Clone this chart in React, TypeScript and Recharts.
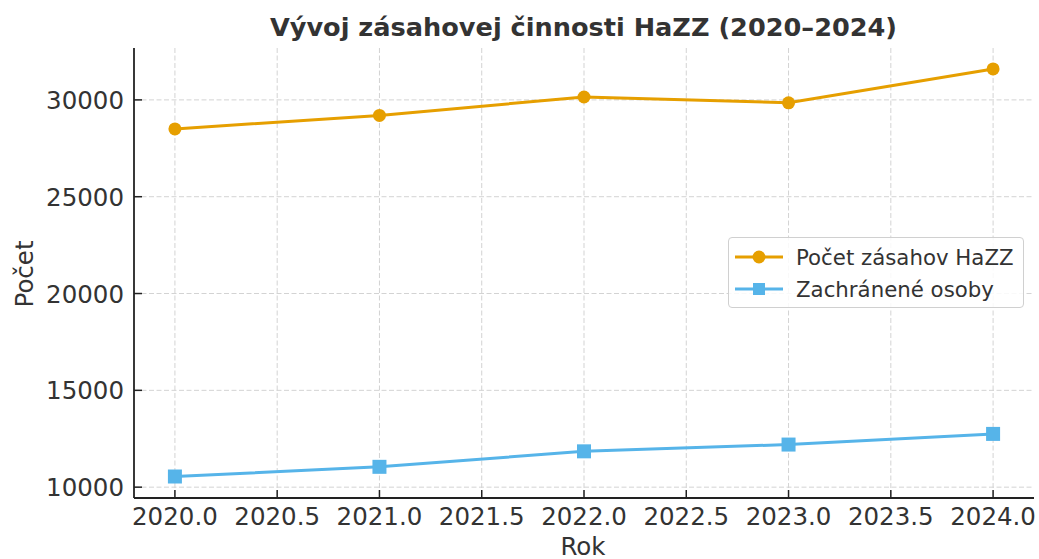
import React from 'react';
import { LineChart, Line, XAxis, YAxis, CartesianGrid } from 'recharts';

const years = [2020, 2021, 2022, 2023, 2024];
const zasahy = [28500, 29200, 30150, 29850, 31600];
const zachranene = [10550, 11050, 11850, 12200, 12750];
const xTicks = [2020, 2020.5, 2021, 2021.5, 2022, 2022.5, 2023, 2023.5, 2024];
const yTicks = [10000, 15000, 20000, 25000, 30000];

const data = years.map((y, i) => ({ rok: y, zasahy: zasahy[i], zachranene: zachranene[i] }));

const FONT = '"DejaVu Sans", sans-serif';
const TXT = '#333333';
const ORANGE = '#E69F00';
const BLUE = '#56B4E9';

const X_DOMAIN: [number, number] = [2019.8, 2024.2];
const Y_DOMAIN: [number, number] = [9440, 32680];

const XTick = (props: any) => {
  const { x, y, payload } = props;
  return (
    <g>
      <line x1={x} x2={x} y1={y - 8} y2={y} stroke="#222" strokeWidth={1.5} />
      <text x={x} y={y + 27} textAnchor="middle" fontFamily={FONT} fontSize={24.5} fill={TXT}>
        {Number(payload.value).toFixed(1)}
      </text>
    </g>
  );
};

const YTick = (props: any) => {
  const { x, y, payload } = props;
  return (
    <g>
      <line x1={x} x2={x + 8} y1={y} y2={y} stroke="#222" strokeWidth={1.5} />
      <text x={x - 10} y={y + 9} textAnchor="end" fontFamily={FONT} fontSize={24.5} fill={TXT}>
        {payload.value}
      </text>
    </g>
  );
};

const legendItems = [
  { label: 'Počet zásahov HaZZ', color: ORANGE, shape: 'circle' },
  { label: 'Zachránené osoby', color: BLUE, shape: 'square' },
];

const LegendBox = () => (
  <div
    style={{
      position: 'absolute',
      left: 728,
      top: 237,
      boxSizing: 'border-box',
      width: 296,
      height: 71,
      border: '1.5px solid #d0d0d0',
      borderRadius: 4,
      background: 'rgba(255,255,255,0.85)',
      padding: '3px 6px',
      fontFamily: FONT,
      fontSize: 21.3,
      color: TXT,
    }}
  >
    {legendItems.map((it) => (
      <div key={it.label} style={{ display: 'flex', alignItems: 'center', height: 32 }}>
        <svg width={48} height={20} style={{ marginRight: 13, flexShrink: 0 }}>
          <line x1={0} x2={48} y1={10} y2={10} stroke={it.color} strokeWidth={3} />
          {it.shape === 'circle' ? (
            <circle cx={24} cy={10} r={6.5} fill={it.color} />
          ) : (
            <rect x={18} y={4} width={12} height={12} fill={it.color} />
          )}
        </svg>
        <span style={{ whiteSpace: 'nowrap' }}>{it.label}</span>
      </div>
    ))}
  </div>
);

const Square = (props: any) => {
  const { cx, cy } = props;
  if (cx == null || cy == null) return null;
  return <rect x={cx - 7} y={cy - 7} width={14} height={14} fill={BLUE} />;
};

const PLOT = { left: 134, right: 1034, top: 48, bottom: 498 };

const hGen = () =>
  yTicks.map(
    (v) => PLOT.bottom - ((v - Y_DOMAIN[0]) / (Y_DOMAIN[1] - Y_DOMAIN[0])) * (PLOT.bottom - PLOT.top)
  );
const vGen = () =>
  xTicks.map(
    (v) => PLOT.left + ((v - X_DOMAIN[0]) / (X_DOMAIN[1] - X_DOMAIN[0])) * (PLOT.right - PLOT.left)
  );

export default function App() {
  return (
    <div style={{ position: 'absolute', left: 0, top: 0, width: 1039, height: 559, background: '#fff' }}>
      <LineChart
        width={1039}
        height={559}
        data={data}
        margin={{ top: 48, right: 5, bottom: 0, left: 0 }}
      >
        <text x={583.5} y={36} textAnchor="middle" fontFamily={FONT} fontWeight="bold" fontSize={25.6} fill={TXT}>
          Vývoj zásahovej činnosti HaZZ (2020–2024)
        </text>
        <text x={583} y={555} textAnchor="middle" fontFamily={FONT} fontSize={24.5} fill={TXT}>
          Rok
        </text>
        <text
          x={33}
          y={274}
          textAnchor="middle"
          fontFamily={FONT}
          fontSize={24.5}
          fill={TXT}
          transform="rotate(-90 33 274)"
        >
          Počet
        </text>
        <CartesianGrid
          stroke="#d3d3d3"
          strokeDasharray="5 2.5"
          strokeWidth={1}
          horizontalCoordinatesGenerator={hGen}
          verticalCoordinatesGenerator={vGen}
        />
        <XAxis
          dataKey="rok"
          type="number"
          domain={X_DOMAIN}
          ticks={xTicks}
          interval={0}
          height={61}
          tickSize={0}
          tickMargin={0}
          tick={<XTick />}
          tickLine={false}
          axisLine={{ stroke: '#222', strokeWidth: 1.8 }}
          allowDataOverflow
        />
        <YAxis
          type="number"
          domain={Y_DOMAIN}
          ticks={yTicks}
          interval={0}
          width={134}
          tickSize={0}
          tickMargin={0}
          tick={<YTick />}
          tickLine={false}
          axisLine={{ stroke: '#222', strokeWidth: 1.8 }}
          allowDataOverflow
        />
        <Line
          dataKey="zasahy"
          stroke={ORANGE}
          strokeWidth={3}
          dot={{ r: 6.5, fill: ORANGE, stroke: ORANGE, strokeWidth: 0 }}
          activeDot={false}
          isAnimationActive={false}
        />
        <Line
          dataKey="zachranene"
          stroke={BLUE}
          strokeWidth={3}
          dot={<Square />}
          activeDot={false}
          isAnimationActive={false}
        />
      </LineChart>
      <LegendBox />
    </div>
  );
}
